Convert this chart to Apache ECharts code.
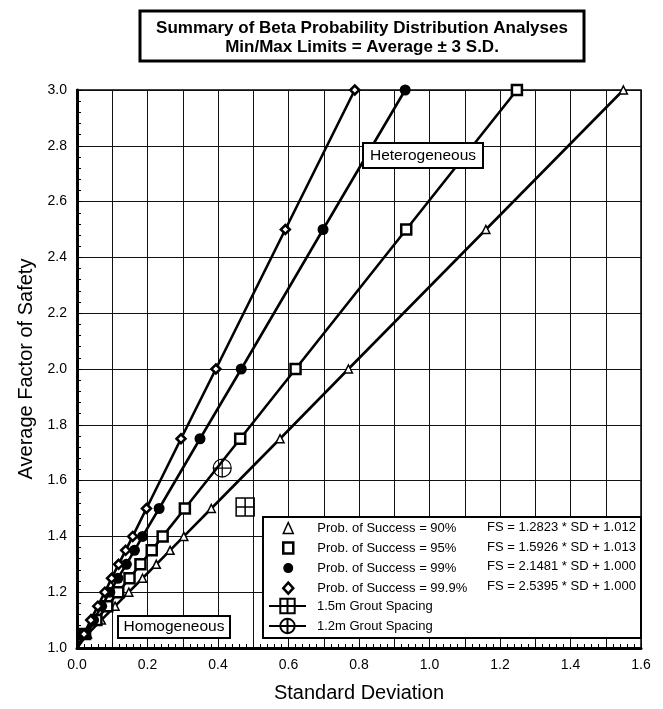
<!DOCTYPE html>
<html><head><meta charset="utf-8">
<script src="https://cdn.jsdelivr.net/npm/echarts@6/dist/echarts.min.js"></script>
<style>html,body{margin:0;padding:0;background:#fff}#c{width:663px;height:709px}</style>
</head><body><div id="c"></div>
<script>
const fsLevels = [1.0, 1.05, 1.1, 1.15, 1.2, 1.25, 1.3, 1.35, 1.4, 1.5, 1.75, 2.0, 2.5, 3.0];
const sd90  = [0, 0.030, 0.069, 0.108, 0.147, 0.186, 0.225, 0.264, 0.303, 0.381, 0.576, 0.770, 1.160, 1.550];
const sd95  = [0, 0.023, 0.055, 0.086, 0.117, 0.149, 0.180, 0.212, 0.243, 0.306, 0.463, 0.620, 0.934, 1.248];
const sd99  = [0, 0.023, 0.047, 0.070, 0.093, 0.116, 0.140, 0.163, 0.186, 0.233, 0.349, 0.466, 0.698, 0.931];
const sd999 = [0, 0.020, 0.039, 0.059, 0.079, 0.098, 0.118, 0.138, 0.158, 0.197, 0.295, 0.394, 0.591, 0.788];
const grout15 = [[0.477, 1.505]];
const grout12 = [[0.412, 1.645]];
const seriesNames = ['Prob. of Success = 90%', 'Prob. of Success = 95%', 'Prob. of Success = 99%', 'Prob. of Success = 99.9%', '1.5m Grout Spacing', '1.2m Grout Spacing'];
const equations = ['FS = 1.2823 * SD + 1.012', 'FS = 1.5926 * SD + 1.013', 'FS = 2.1481 * SD + 1.000', 'FS = 2.5395 * SD + 1.000'];
const xTicks = [0.0, 0.2, 0.4, 0.6, 0.8, 1.0, 1.2, 1.4, 1.6];
const titleLines = ['Summary of Beta Probability Distribution Analyses', 'Min/Max Limits = Average \u00b1 3 S.D.'];

const FONT = 'Arial, "Liberation Sans", sans-serif';
function pts(sd) {
  return sd.map((x, i) => i === 0 ? {value: [x, fsLevels[i]], symbol: 'none'} : [x, fsLevels[i]]);
}
const sqCross = 'path://M0,0H20V20H0Z M10,0V20 M0,10H20';
const circCross = 'path://M10,0A10,10,0,1,1,10,20A10,10,0,1,1,10,0Z M10,0V20 M0,10H20';

const chart = echarts.init(document.getElementById('c'), null, {renderer: 'canvas'});
const lineSer = (name, sd, symbol, size, fill, bw) => ({
  name, type: 'line', data: pts(sd), symbol, symbolSize: size,
  lineStyle: {color: '#000', width: 2.6},
  itemStyle: {color: fill, borderColor: '#000', borderWidth: bw},
  z: 3
});
const legendIcons = [
  {icon: 'triangle', itemStyle: {color: '#fff', borderColor: '#000', borderWidth: 1.5}},
  {icon: 'rect', itemStyle: {color: '#fff', borderColor: '#000', borderWidth: 2.5}},
  {icon: 'circle', itemStyle: {color: '#000', borderColor: '#000', borderWidth: 0}},
  {icon: 'diamond', itemStyle: {color: '#fff', borderColor: '#000', borderWidth: 2.5}}
];
const rowY = [527, 547, 566, 586];

chart.setOption({
  animation: false,
  backgroundColor: '#fff',
  grid: {left: 77, right: 22, top: 90, bottom: 61, show: true, borderColor: '#000', borderWidth: 1.5},
  xAxis: {
    type: 'value', min: 0, max: 1.6, interval: 0.1,
    name: 'Standard Deviation', nameLocation: 'middle', nameGap: 35,
    nameTextStyle: {fontFamily: FONT, fontSize: 20, color: '#000'},
    axisLine: {lineStyle: {color: '#000', width: 3}},
    axisTick: {show: true, inside: true, length: 5, lineStyle: {color: '#000'}},
    minorTick: {show: true, splitNumber: 5, length: 4, lineStyle: {color: '#000'}},
    splitLine: {show: true, lineStyle: {color: '#111', width: 1}},
    axisLabel: {fontFamily: FONT, fontSize: 14, color: '#000', margin: 10,
      formatter: v => { const r = Math.round(v * 10); return xTicks.some(t => Math.round(t * 10) === r) ? v.toFixed(1) : ''; }}
  },
  yAxis: {
    type: 'value', min: 1.0, max: 3.0, interval: 0.2,
    name: 'Average Factor of Safety', nameLocation: 'middle', nameGap: 40,
    nameTextStyle: {fontFamily: FONT, fontSize: 20, color: '#000'},
    axisLine: {lineStyle: {color: '#000', width: 3}},
    axisTick: {show: true, inside: true, length: 5, lineStyle: {color: '#000'}},
    minorTick: {show: true, splitNumber: 5, length: 4, lineStyle: {color: '#000'}},
    splitLine: {show: true, lineStyle: {color: '#111', width: 1}},
    axisLabel: {fontFamily: FONT, fontSize: 14, color: '#000', margin: 10, formatter: v => v.toFixed(1)}
  },
  legend: [{
    orient: 'vertical', left: 282, top: 521.5, padding: 0, itemGap: 6.8, itemWidth: 10, itemHeight: 11,
    z: 6,
    textStyle: {fontFamily: FONT, fontSize: 13, color: '#000', lineHeight: 11, padding: [0, 0, 0, 19]},
    data: seriesNames.slice(0, 4).map((n, i) => Object.assign({name: n}, legendIcons[i]))
  }, {
    orient: 'vertical', left: 268, top: 597, padding: 0, itemGap: 2, itemWidth: 37, itemHeight: 18,
    z: 6,
    textStyle: {fontFamily: FONT, fontSize: 13, color: '#000', lineHeight: 18, padding: [0, 0, 0, 6]},
    data: seriesNames.slice(4).map(n => ({name: n}))
  }],
  series: [
    lineSer(seriesNames[0], sd90, 'triangle', 8, '#fff', 1.5),
    lineSer(seriesNames[1], sd95, 'rect', 10, '#fff', 2.5),
    lineSer(seriesNames[2], sd99, 'circle', 11, '#000', 0),
    lineSer(seriesNames[3], sd999, 'diamond', 9, '#fff', 2.5),
    {name: seriesNames[4], type: 'line', data: grout15, symbol: sqCross, symbolSize: 18,
      lineStyle: {color: '#000', width: 1}, itemStyle: {color: 'rgba(0,0,0,0)', borderColor: '#000', borderWidth: 1.5}, z: 3},
    {name: seriesNames[5], type: 'line', data: grout12, symbol: circCross, symbolSize: 18,
      lineStyle: {color: '#000', width: 1}, itemStyle: {color: 'rgba(0,0,0,0)', borderColor: '#000', borderWidth: 1.2}, z: 3}
  ],
  graphic: [
    {type: 'rect', z: 10, shape: {x: 140, y: 11, width: 444, height: 50},
      style: {fill: '#fff', stroke: '#000', lineWidth: 3}},
    {type: 'text', z: 11, style: {text: titleLines[0], x: 362, y: 28, align: 'center', verticalAlign: 'middle',
      font: 'bold 17px ' + FONT, fill: '#000'}},
    {type: 'text', z: 11, style: {text: titleLines[1], x: 362, y: 47, align: 'center', verticalAlign: 'middle',
      font: 'bold 17px ' + FONT, fill: '#000'}},
    {type: 'rect', z: 5, shape: {x: 263, y: 517, width: 378, height: 121},
      style: {fill: '#fff', stroke: '#000', lineWidth: 2}},
    ...equations.map((e, i) => ({type: 'text', z: 7, style: {text: e, x: 487, y: rowY[i], verticalAlign: 'middle',
      font: '13px ' + FONT, fill: '#000'}})),
    {type: 'rect', z: 5, shape: {x: 363, y: 143, width: 120, height: 25},
      style: {fill: '#fff', stroke: '#000', lineWidth: 2}},
    {type: 'text', z: 7, style: {text: 'Heterogeneous', x: 423, y: 156, align: 'center', verticalAlign: 'middle',
      font: '15.5px ' + FONT, fill: '#000'}},
    {type: 'rect', z: 5, shape: {x: 118, y: 616, width: 112, height: 22},
      style: {fill: '#fff', stroke: '#000', lineWidth: 2}},
    {type: 'text', z: 7, style: {text: 'Homogeneous', x: 174, y: 627, align: 'center', verticalAlign: 'middle',
      font: '15.5px ' + FONT, fill: '#000'}}
  ]
});
</script></body></html>
